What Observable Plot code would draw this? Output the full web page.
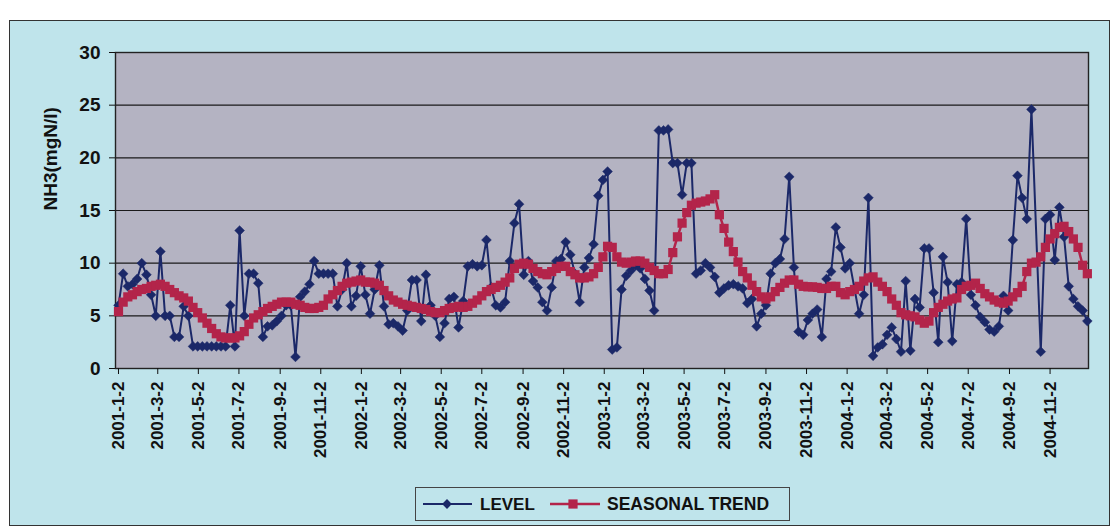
<!DOCTYPE html>
<html>
<head>
<meta charset="utf-8">
<script src="https://cdn.jsdelivr.net/npm/d3@7"></script>
<script src="https://cdn.jsdelivr.net/npm/@observablehq/plot@0.6"></script>
<style>
  html, body { margin: 0; padding: 0; background: #ffffff; width: 1116px; height: 529px; overflow: hidden; font-family: "Liberation Sans", Arial, sans-serif; }
  #panel { position: absolute; left: 9px; top: 20px; width: 1101px; height: 506px; background: #bfe4eb; border: 1px solid #333; box-sizing: border-box; }
  #chart { position: absolute; left: 0; top: 0; }
  #legend { position: absolute; left: 415px; top: 487px; width: 375px; height: 34px; border: 1px solid #444; box-sizing: border-box; }
</style>
</head>
<body>
<div id="panel"></div>
<div id="chart"></div>
<div id="legend"></div>
<script>
// ---- data (weekly samples starting 2001-1-2) ----
const START_DATE = "2001-1-2";
const LEVEL = [
  6.0, 9.0, 7.8, 8.0, 8.5, 10.0, 8.9, 7.0, 5.0, 11.1,
  5.0, 5.0, 3.0, 3.0, 5.9, 5.0, 2.1, 2.1, 2.1, 2.1,
  2.1, 2.1, 2.1, 2.1, 6.0, 2.1, 13.1, 5.0, 9.0, 9.0,
  8.1, 3.0, 4.0, 4.1, 4.5, 5.0, 6.0, 6.0, 1.1, 6.8,
  7.3, 8.0, 10.2, 9.0, 9.0, 9.0, 9.0, 5.9, 7.5, 10.0,
  5.9, 6.9, 9.7, 7.0, 5.2, 7.5, 9.8, 5.9, 4.2, 4.3,
  4.0, 3.6, 5.5, 8.4, 8.4, 4.5, 8.9, 6.0, 5.0, 3.0,
  4.3, 6.6, 6.8, 3.9, 6.4, 9.7, 9.9, 9.7, 9.8, 12.2,
  7.7, 6.0, 5.8, 6.3, 10.2, 13.8, 15.6, 8.9, 10.2, 8.3,
  7.7, 6.3, 5.5, 7.7, 10.2, 10.4, 12.0, 10.8, 9.0, 6.3,
  9.6, 10.5, 11.8, 16.4, 17.9, 18.7, 1.8, 2.0, 7.5, 8.8,
  9.3, 9.8, 9.5, 8.5, 7.4, 5.5, 22.6, 22.6, 22.7, 19.5,
  19.5, 16.5, 19.5, 19.5, 9.0, 9.3, 10.0, 9.6, 8.7, 7.2,
  7.6, 7.9, 8.0, 7.8, 7.6, 6.2, 6.6, 4.0, 5.2, 6.0,
  9.0, 10.0, 10.4, 12.3, 18.2, 9.6, 3.5, 3.2, 4.6, 5.2,
  5.6, 3.0, 8.5, 9.2, 13.4, 11.5, 9.5, 10.0, 7.6, 5.2,
  7.0, 16.2, 1.2, 2.0, 2.3, 3.2, 3.9, 2.8, 1.6, 8.3,
  1.7, 6.6, 5.8, 11.4, 11.4, 7.2, 2.5, 10.6, 8.2, 2.6,
  8.0, 8.2, 14.2, 7.0, 6.0, 4.9, 4.4, 3.7, 3.5, 4.0,
  6.9, 5.5, 12.2, 18.3, 16.2, 14.2, 24.6, null, 1.6, 14.2,
  14.6, 10.3, 15.3, 12.5, 7.8, 6.6, 5.9, 5.5, 4.5
];
const TREND = [
  5.4, 6.3, 6.8, 7.0, 7.3, 7.5, 7.6, 7.8, 7.9, 8.0,
  7.8, 7.5, 7.2, 6.9, 6.7, 6.4, 5.8, 5.3, 4.8, 4.3,
  3.8, 3.3, 3.0, 2.9, 2.9, 2.9, 3.1, 3.5, 4.2, 4.8,
  5.1, 5.4, 5.7, 5.9, 6.1, 6.3, 6.3, 6.3, 6.1, 6.0,
  5.8, 5.7, 5.7, 5.8, 6.0, 6.6, 7.0, 7.4, 7.8, 8.1,
  8.2, 8.3, 8.4, 8.2, 8.2, 8.1, 7.9, 7.4, 6.9, 6.5,
  6.3, 6.1, 6.0, 5.9, 5.8, 5.7, 5.6, 5.4, 5.3, 5.3,
  5.5, 5.7, 5.8, 5.9, 5.8, 5.9, 6.2, 6.5, 6.9, 7.3,
  7.5, 7.7, 7.9, 8.2, 8.6, 9.5, 9.9, 10.0, 9.9, 9.5,
  9.2, 9.0, 8.9, 9.2, 9.5, 9.7, 9.7, 9.2, 8.9, 8.6,
  8.6, 8.7, 9.0, 9.6, 10.6, 11.6, 11.5, 10.6, 10.1, 10.0,
  10.1, 10.2, 10.2, 10.0, 9.6, 9.3, 9.0, 9.0, 9.4, 11.0,
  12.5, 13.8, 14.8, 15.5, 15.7, 15.8, 15.9, 16.1, 16.5, 14.6,
  13.3, 12.0, 11.1, 10.1, 9.2, 8.6, 7.9, 7.3, 6.8, 6.6,
  6.8, 7.3, 7.7, 8.1, 8.4, 8.4, 8.0, 7.8, 7.75, 7.75,
  7.7, 7.6, 7.6, 7.8, 7.8, 7.2, 7.0, 7.3, 7.5, 7.8,
  8.3, 8.6, 8.7, 8.2, 7.8, 7.3, 6.6, 6.0, 5.3, 5.1,
  5.0, 4.9, 4.6, 4.3, 4.5, 5.3, 5.8, 6.1, 6.4, 6.6,
  6.7, 7.5, 7.8, 7.9, 8.1, 7.6, 7.1, 6.8, 6.5, 6.3,
  6.2, 6.4, 6.8, 7.2, 7.8, 9.2, 10.0, 10.1, 10.6, 11.5,
  12.3, 12.8, 13.4, 13.5, 13.0, 12.3, 11.5, 9.8, 9.0
];
const TICK_LABELS = [
  "2001-1-2", "2001-3-2", "2001-5-2", "2001-7-2", "2001-9-2", "2001-11-2",
  "2002-1-2", "2002-3-2", "2002-5-2", "2002-7-2", "2002-9-2", "2002-11-2",
  "2003-1-2", "2003-3-2", "2003-5-2", "2003-7-2", "2003-9-2", "2003-11-2",
  "2004-1-2", "2004-3-2", "2004-5-2", "2004-7-2", "2004-9-2", "2004-11-2"
];
const Y_TICKS = [0, 5, 10, 15, 20, 25, 30];
const GRID_Y = [5, 10, 15, 20, 25];
const SERIES_NAMES = ["LEVEL", "SEASONAL TREND"];
const Y_TITLE = "NH3(mgN/l)";

// ---- styles ----
const NAVY = "#1b2868";
const RED = "#b3244a";
const PLOT_BG = "#b4b3c2";
const FONT = "'Liberation Sans', Arial, sans-serif";

const parseDate = s => { const [y, m, d] = s.split("-").map(Number); return new Date(y, m - 1, d); };
const start = parseDate(START_DATE);
const weekDate = i => d3.timeDay.offset(start, 7 * i);
const levelData = LEVEL.map((v, i) => ({date: weekDate(i), value: v})).filter(d => d.value != null);
const trendData = TREND.map((v, i) => ({date: weekDate(i), value: v}));
const tickDates = TICK_LABELS.map(parseDate);
const fmt = d => `${d.getFullYear()}-${d.getMonth() + 1}-${d.getDate()}`;

const chart = Plot.plot({
  width: 1116,
  height: 470,
  marginLeft: 115,
  marginRight: 28,
  marginTop: 52,
  marginBottom: 102,
  style: {background: "transparent", fontFamily: FONT, color: "#111"},
  x: {type: "time", domain: [new Date(2000, 11, 28, 12), new Date(2004, 11, 29, 18)]},
  y: {domain: [0, 30]},
  marks: [
    Plot.frame({fill: PLOT_BG, stroke: null}),
    Plot.ruleY(GRID_Y, {stroke: "#1a1a1a", strokeWidth: 1.2}),
    Plot.frame({stroke: "#222", strokeWidth: 1.4}),
    Plot.axisY({ticks: Y_TICKS, tickSize: 6, tickPadding: 9, fontSize: 19, fontWeight: "bold", label: null}),
    Plot.axisX({ticks: tickDates, tickFormat: fmt, tickRotate: -90, tickSize: 6, tickPadding: 7, fontSize: 17, fontWeight: "bold", label: null}),
    Plot.line(levelData, {x: "date", y: "value", stroke: NAVY, strokeWidth: 2}),
    Plot.dot(levelData, {x: "date", y: "value", symbol: "diamond2", r: 4.4, fill: NAVY, stroke: NAVY, strokeWidth: 0.5}),
    Plot.line(trendData, {x: "date", y: "value", stroke: RED, strokeWidth: 2.5}),
    Plot.dot(trendData, {x: "date", y: "value", symbol: "square", r: 5.2, fill: RED, stroke: null}),
    Plot.text([Y_TITLE], {text: d => d, frameAnchor: "left", dx: -65, rotate: -90, fontSize: 19, fontWeight: "bold", fill: "#111"})
  ]
});
document.getElementById("chart").appendChild(chart);

// ---- legend ----
const lg = d3.select("#legend").append("svg").attr("width", 373).attr("height", 32)
  .style("font-family", FONT);
lg.append("line").attr("x1", 7).attr("x2", 56).attr("y1", 16).attr("y2", 16).attr("stroke", NAVY).attr("stroke-width", 2);
lg.append("path").attr("d", d3.symbol(d3.symbolDiamond2, Math.PI * 4.4 * 4.4)()).attr("transform", "translate(31,16)").attr("fill", NAVY);
lg.append("text").attr("x", 64).attr("y", 16).attr("dy", "0.35em").attr("font-size", 17).attr("font-weight", "bold").attr("fill", "#111").text(SERIES_NAMES[0]);
lg.append("line").attr("x1", 134).attr("x2", 184).attr("y1", 16).attr("y2", 16).attr("stroke", RED).attr("stroke-width", 2.5);
lg.append("path").attr("d", d3.symbol(d3.symbolSquare, Math.PI * 5.2 * 5.2)()).attr("transform", "translate(157,16)").attr("fill", RED);
lg.append("text").attr("x", 191).attr("y", 16).attr("dy", "0.35em").attr("font-size", 17.5).attr("font-weight", "bold").attr("fill", "#111").text(SERIES_NAMES[1]);
</script>
</body>
</html>
